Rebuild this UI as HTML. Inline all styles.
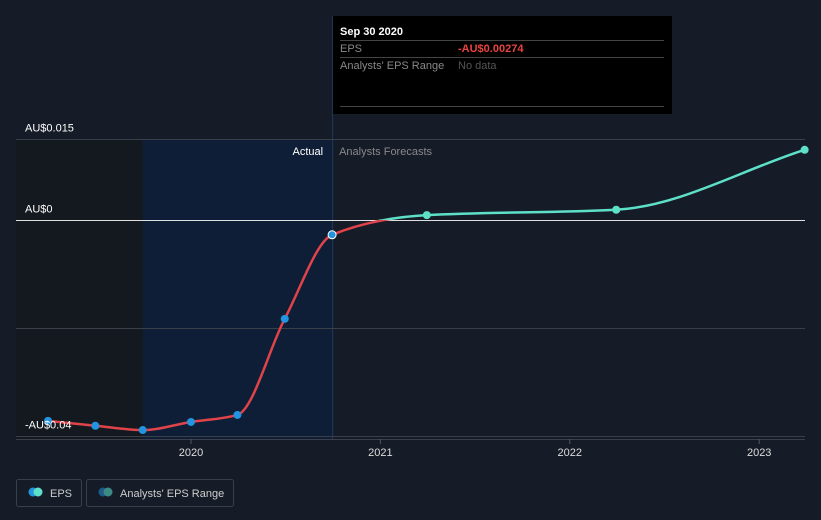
<!DOCTYPE html>
<html><head><meta charset="utf-8"><style>
body{margin:0;background:#161c27;width:821px;height:520px;overflow:hidden;font-family:"Liberation Sans",sans-serif}
svg{display:block}
</style></head><body>
<svg id="chart" width="821" height="520">
<rect x="0" y="0" width="821" height="520" fill="#161c27"/>
<g id="bands"></g>
<g id="grid"></g>
<g id="series"></g>
<g id="labels"></g>
<g>
<rect x="333" y="16" width="339" height="98" fill="#000"/>
<text x="340" y="35" fill="#fff" font-size="11" font-weight="bold">Sep 30 2020</text>
<line x1="340" y1="40.5" x2="664" y2="40.5" stroke="#444"/>
<text x="340" y="52" fill="#888" font-size="11">EPS</text>
<text x="458" y="52" fill="#e8433e" font-size="11" font-weight="bold">-AU$0.00274</text>
<line x1="340" y1="57.5" x2="664" y2="57.5" stroke="#444"/>
<text x="340" y="69" fill="#888" font-size="11">Analysts' EPS Range</text>
<text x="458" y="69" fill="#555" font-size="11">No data</text>
<line x1="340" y1="106.5" x2="664" y2="106.5" stroke="#444"/>
</g>
<g>
<g>
<rect x="16.5" y="479.5" width="65" height="27" rx="2" fill="none" stroke="#3a3f4a"/>
<circle cx="33" cy="492" r="4.5" fill="#2394df"/><circle cx="38" cy="492" r="4.5" fill="#5ee0c8"/>
<text x="50" y="497" fill="#ccc" font-size="11">EPS</text>
</g>
<g>
<rect x="86.5" y="479.5" width="147" height="27" rx="2" fill="none" stroke="#3a3f4a"/>
<circle cx="103" cy="492" r="4.5" fill="#1f5a8a"/><circle cx="108" cy="492" r="4.5" fill="#3b8a84"/>
<text x="120" y="497" fill="#ccc" font-size="11">Analysts' EPS Range</text>
</g>
</g>
</svg>
<script>
const actualDates=[2019.245,2019.495,2019.745,2020.0,2020.245,2020.495,2020.745];
const actualEps=[-0.0372,-0.0381,-0.0389,-0.0374,-0.0361,-0.0183,-0.00274];
const forecastDates=[2021.245,2022.245,2023.24];
const forecastEps=[0.0009,0.0019,0.013];
const yTicks=[0.015,0,-0.02,-0.04];
const yTickLabels=["AU$0.015","AU$0","","-AU$0.04"];
const xTicks=[2020,2021,2022,2023];

const NS="http://www.w3.org/2000/svg";
const X=d=>191+(d-2020)*189.4;
const Y=v=>220-v*5400;
function mk(tag,attrs,parent){const e=document.createElementNS(NS,tag);for(const k in attrs)e.setAttribute(k,attrs[k]);parent.appendChild(e);return e;}
const bands=document.getElementById('bands'),grid=document.getElementById('grid'),series=document.getElementById('series'),labels=document.getElementById('labels');

let b1=mk('rect',{x:16,y:139,width:X(2019.745)-16,height:300,fill:'#14181f'},bands);


let b2=mk('rect',{x:X(2019.745),y:139,width:X(2020.745)-X(2019.745),height:300,fill:'#0e1e36'},bands);


let vl=mk('line',{x1:X(2020.745)+0.5,y1:16,x2:X(2020.745)+0.5,y2:439,stroke:'#1e3a60'},bands);



yTicks.forEach((t,i)=>{
  const y=Math.round(Y(t))+0.5;
  let l=mk('line',{x1:16,y1:y,x2:805,y2:y,stroke:t===0?'#e0e0e0':'#3a3f4a'},grid);
  
  
  if(yTickLabels[i]){let tx=mk('text',{x:25,y:y-8,fill:'#fff','font-size':11},labels);tx.textContent=yTickLabels[i];
  
  }
});
let bl=mk('line',{x1:16,y1:439.5,x2:805,y2:439.5,stroke:'#3a3f4a'},grid);


xTicks.forEach(t=>{
  let tk=mk('line',{x1:X(t),y1:439,x2:X(t),y2:444,stroke:'#555'},grid);
  
  
  let tx=mk('text',{x:X(t),y:456,fill:'#ddd','font-size':11,'text-anchor':'middle'},labels);tx.textContent=t;
  
  
});
let ta=mk('text',{x:X(2020.745)-9,y:155,fill:'#fff','font-size':11,'text-anchor':'end'},labels);ta.textContent='Actual';


let tf=mk('text',{x:X(2020.745)+7,y:155,fill:'#888','font-size':11},labels);tf.textContent='Analysts Forecasts';



// monotone cubic path
function monotone(pts){
  const n=pts.length,dx=[],m=[],t=[];
  for(let i=0;i<n-1;i++){dx.push(pts[i+1][0]-pts[i][0]);m.push((pts[i+1][1]-pts[i][1])/dx[i]);}
  t[0]=m[0];t[n-1]=m[n-2];
  for(let i=1;i<n-1;i++){t[i]=(m[i-1]*m[i]<=0)?0:(3*(dx[i-1]+dx[i]))/((2*dx[i]+dx[i-1])/m[i-1]+(dx[i]+2*dx[i-1])/m[i]);}
  let d=`M${pts[0][0]},${pts[0][1]}`;
  for(let i=0;i<n-1;i++){const h=dx[i]/3;d+=` C${pts[i][0]+h},${pts[i][1]+t[i]*h} ${pts[i+1][0]-h},${pts[i+1][1]-t[i+1]*h} ${pts[i+1][0]},${pts[i+1][1]}`;}
  return d;
}
const allD=actualDates.concat(forecastDates),allV=actualEps.concat(forecastEps);
const pts=allD.map((d,i)=>[X(d),Y(allV[i])]);
const pd=monotone(pts);
const defs=mk('defs',{},series);
const c1=mk('clipPath',{id:'neg'},defs);mk('rect',{x:0,y:Y(0),width:821,height:300},c1);
const c2=mk('clipPath',{id:'pos'},defs);mk('rect',{x:0,y:0,width:821,height:Y(0)},c2);
let pr=mk('path',{d:pd,fill:'none',stroke:'#e0434a',"stroke-width":2.5,'clip-path':'url(#neg)'},series);


let pg=mk('path',{d:pd,fill:'none',stroke:'#5ee0c8',"stroke-width":2.5,'clip-path':'url(#pos)'},series);


actualDates.forEach((d,i)=>{
  const last=i===actualDates.length-1;
  let c=mk('circle',{cx:X(d),cy:Y(actualEps[i]),r:4,fill:'#2394df',stroke:last?'#fff':'none','stroke-width':1},series);
  
  
});
forecastDates.forEach((d,i)=>{
  let c=mk('circle',{cx:X(d),cy:Y(forecastEps[i]),r:4,fill:'#5ee0c8'},series);
  
  
});
</script>
</body></html>
